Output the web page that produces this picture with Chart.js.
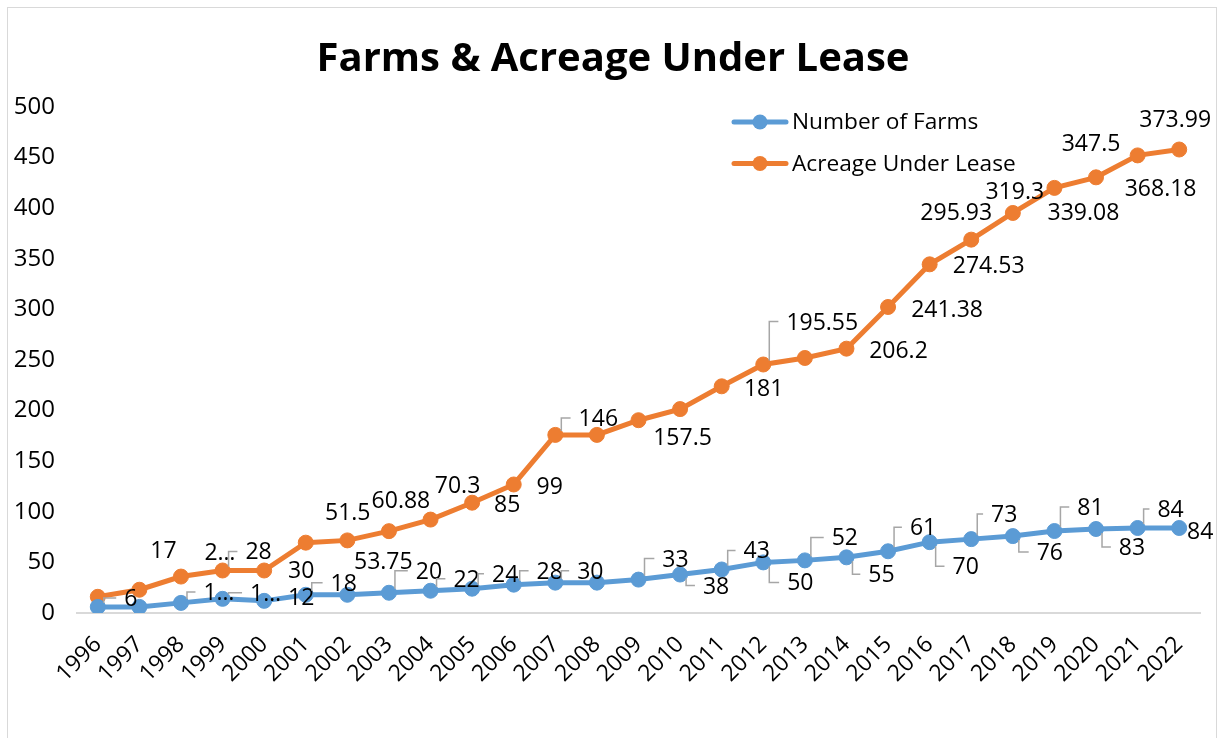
<!DOCTYPE html>
<html>
<head>
<meta charset="utf-8">
<style>
  html, body { margin: 0; padding: 0; background: #fff; }
  #wrap { position: relative; width: 1223px; height: 738px; overflow: hidden; }
  #frame { position: absolute; left: 7px; top: 7px; width: 1210px; height: 780px; border: 1px solid #d9d9d9; box-sizing: border-box; }
  canvas { position: absolute; left: 0; top: 0; }
</style>
<script src="https://cdn.jsdelivr.net/npm/chart.js@4.4.1/dist/chart.umd.min.js"></script>
</head>
<body>
<div id="wrap">
  <div id="frame"></div>
  <canvas id="chart" width="1223" height="738"></canvas>
</div>
<script>
// Data (stacked line: acreage sits on top of farms)
const years = ['1996', '1997', '1998', '1999', '2000', '2001', '2002', '2003', '2004', '2005',
  '2006', '2007', '2008', '2009', '2010', '2011', '2012', '2013', '2014', '2015',
  '2016', '2017', '2018', '2019', '2020', '2021', '2022']
const farms = [6, 6, 10, 14, 12, 18, 18, 20, 22, 24, 28, 30, 30, 33, 38, 43, 50, 52, 55, 61,
  70, 73, 76, 81, 83, 84, 84]
const acreage = [10, 17, 26, 28, 30, 51.5, 53.75, 60.88, 70.3, 85, 99, 146, 146, 157.5, 163.5,
  181, 195.55, 200, 206.2, 241.38, 274.53, 295.93, 319.3, 339.08, 347.5, 368.18, 373.99]

const TITLE = 'Farms & Acreage Under Lease'
const BLUE = '#5b9bd5'
const ORANGE = '#ed7d31'
const FONT = '"Open Sans", "Noto Sans", sans-serif'

// Where each data label sits relative to its point (null = label hidden in the original)
// t = truncated by Excel, n = no leader line
const farmSpots = [[33, -9], null, [38, -11, 't'], [43, -6, 't'], [37, -4], [38, -12], null,
  [40, -22], [36, -12], [33, -15], [36, -14], [35, -12], null, [37, -21], [36, 11], [35, -19],
  [37, 20], [40, -23], [35, 17], [35, -24], [36, 24], [33, -25], [37, 16], [36, -24], [36, 18],
  [33, -19], [21, 3]]
const acreSpots = [null, [24, -40], [39, -25, 'tn'], [36, -19], [37, 0], [42, -31, 'n'], [36, 21],
  [12, -31], [27, -35], [35, 1], [36, 2], [43, -17], null, [44, 17], null, [42, 2], [59, -43],
  null, [52, 1], [59, 2], [59, 1], [-15, -28], [2, -22], [29, 24], [-5, -34], [23, 33], [-4, -31]]
const labelSpots = [farmSpots, acreSpots]

const pointLabels = {
  id: 'pointLabels',
  afterDatasetsDraw(chart) {
    const ctx = chart.ctx
    ctx.save()
    ctx.font = '23px ' + FONT
    chart.data.datasets.forEach((ds, di) => {
      const meta = chart.getDatasetMeta(di)
      meta.data.forEach((pt, i) => {
        const spot = labelSpots[di][i]
        if (!spot) return
        const [dx, dy, flags = ''] = spot
        let text = String(ds.data[i])
        if (flags.includes('t')) text = text[0] + '…'
        const w = ctx.measureText(text).width
        const cx = pt.x + dx
        const cy = pt.y + dy
        const left = cx - w / 2
        if (!flags.includes('n') && left - pt.x >= 15 && Math.abs(dy) >= 5) {
          const dir = dy < 0 ? -1 : 1
          ctx.strokeStyle = '#a6a6a6'
          ctx.lineWidth = 1.5
          ctx.beginPath()
          ctx.moveTo(pt.x + 6, pt.y + dir * 4)
          ctx.lineTo(pt.x + 6, cy)
          ctx.lineTo(left - 8, cy)
          ctx.stroke()
        }
        ctx.fillStyle = '#000'
        ctx.textAlign = 'center'
        ctx.textBaseline = 'alphabetic'
        ctx.fillText(text, cx, cy + 8)
      })
    })
    ctx.restore()
  }
}

// Title centred on the whole chart frame, and an Excel-style legend inside the plot area
const frameDecor = {
  id: 'frameDecor',
  afterDraw(chart) {
    const ctx = chart.ctx
    ctx.save()
    ctx.fillStyle = '#000'
    ctx.font = 'bold 40px ' + FONT
    ctx.textAlign = 'center'
    ctx.textBaseline = 'middle'
    ctx.fillText(TITLE, 613, 60)

    ctx.font = '22.7px ' + FONT
    ctx.textAlign = 'left'
    chart.data.datasets.forEach((ds, i) => {
      const y = 122 + i * 41.5
      ctx.strokeStyle = ds.borderColor
      ctx.lineWidth = 5
      ctx.lineCap = 'round'
      ctx.beginPath()
      ctx.moveTo(734, y)
      ctx.lineTo(786, y)
      ctx.stroke()
      ctx.fillStyle = ds.borderColor
      ctx.beginPath()
      ctx.arc(760, y, 7.5, 0, Math.PI * 2)
      ctx.fill()
      ctx.fillStyle = '#000'
      ctx.fillText(ds.label, 792, y + 1)
    })
    ctx.restore()
  }
}

const lineStyle = (color) => ({
  borderColor: color,
  backgroundColor: color,
  pointBackgroundColor: color,
  pointBorderColor: color,
  borderWidth: 5,
  pointRadius: 7.5,
  pointBorderWidth: 1,
  fill: false,
  tension: 0
})

new Chart(document.getElementById('chart'), {
  type: 'line',
  data: {
    labels: years,
    datasets: [
      { label: 'Number of Farms', data: farms, ...lineStyle(BLUE) },
      { label: 'Acreage Under Lease', data: acreage, ...lineStyle(ORANGE) }
    ]
  },
  options: {
    responsive: false,
    animation: false,
    layout: { padding: { left: 0, right: 23, top: 107, bottom: 0 } },
    plugins: {
      legend: { display: false },
      tooltip: { enabled: false },
      title: { display: false }
    },
    scales: {
      x: {
        offset: true,
        grid: { display: false, drawTicks: false },
        border: { display: true, color: '#d9d9d9', width: 2 },
        ticks: {
          color: '#000',
          font: { family: FONT, size: 23 },
          minRotation: 45,
          maxRotation: 45,
          autoSkip: false,
          padding: 18
        },
        afterFit: (s) => { s.height = 125 }
      },
      y: {
        stacked: true,
        min: 0,
        max: 500,
        grid: { display: false, drawTicks: false },
        border: { display: false },
        ticks: {
          stepSize: 50,
          color: '#000',
          font: { family: FONT, size: 24 },
          padding: 22
        },
        afterFit: (s) => { s.width = 77 }
      }
    }
  },
  plugins: [pointLabels, frameDecor]
})
</script>
</body>
</html>
